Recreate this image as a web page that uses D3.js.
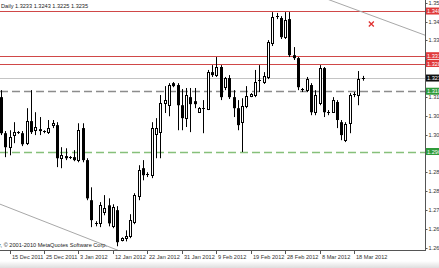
<!DOCTYPE html>
<html>
<head>
<meta charset="utf-8">
<script src="https://cdn.jsdelivr.net/npm/d3@7"></script>
<style>
  body { margin: 0; background: #fff; }
  svg { display: block; }
  text { font-family: "Liberation Sans", Arial, sans-serif; font-size: 5.6px; }
</style>
</head>
<body>
<svg id="chart" width="439" height="268"></svg>
<script>
// daily bars (Sunday bars included, like the broker feed)
var dates = [
  "2011-12-13","2011-12-14","2011-12-15","2011-12-16","2011-12-18","2011-12-19","2011-12-20","2011-12-21","2011-12-22","2011-12-23",
  "2011-12-25","2011-12-26","2011-12-27","2011-12-28","2011-12-29","2011-12-30","2012-01-01","2012-01-02","2012-01-03","2012-01-04",
  "2012-01-05","2012-01-06","2012-01-08","2012-01-09","2012-01-10","2012-01-11","2012-01-12","2012-01-13","2012-01-15","2012-01-16",
  "2012-01-17","2012-01-18","2012-01-19","2012-01-20","2012-01-22","2012-01-23","2012-01-24","2012-01-25","2012-01-26","2012-01-27",
  "2012-01-29","2012-01-30","2012-01-31","2012-02-01","2012-02-02","2012-02-03","2012-02-05","2012-02-06","2012-02-07","2012-02-08",
  "2012-02-09","2012-02-10","2012-02-12","2012-02-13","2012-02-14","2012-02-15","2012-02-16","2012-02-17","2012-02-19","2012-02-20",
  "2012-02-21","2012-02-22","2012-02-23","2012-02-24","2012-02-26","2012-02-27","2012-02-28","2012-02-29","2012-03-01","2012-03-02",
  "2012-03-04","2012-03-05","2012-03-06","2012-03-07","2012-03-08","2012-03-09","2012-03-11","2012-03-12","2012-03-13","2012-03-14",
  "2012-03-15","2012-03-16","2012-03-18","2012-03-19","2012-03-20"
];
var open = [
  1.3164,1.3030,1.2978,1.3023,1.3034,1.3030,1.2993,1.3075,1.3041,1.3045,
  1.3038,1.3034,1.3060,1.3060,1.2937,1.2945,1.2937,1.2941,1.2930,1.3049,
  1.2930,1.2781,1.2695,1.2695,1.2736,1.2762,1.2684,1.2744,1.2632,1.2640,
  1.2647,1.2699,1.2796,1.2900,1.2874,1.2874,1.3027,1.3034,1.3142,1.3134,
  1.3216,1.3209,1.3134,1.3086,1.3164,1.3149,1.3108,1.3123,1.3120,1.3257,
  1.3246,1.3276,1.3201,1.3235,1.3164,1.3123,1.3071,1.3131,1.3168,1.3172,
  1.3227,1.3220,1.3239,1.3365,1.3462,1.3458,1.3387,1.3454,1.3320,1.3309,
  1.3194,1.3190,1.3209,1.3108,1.3142,1.3272,1.3108,1.3108,1.3146,1.3071,
  1.3004,1.3067,1.3172,1.3172,1.3233
];
var high = [
  1.3190,1.3038,1.3041,1.3071,1.3038,1.3038,1.3123,1.3190,1.3108,1.3090,
  1.3041,1.3079,1.3079,1.3071,1.2978,1.2974,1.2945,1.2967,1.3067,1.3067,
  1.2937,1.2829,1.2703,1.2774,1.2800,1.2788,1.2766,1.2759,1.2643,1.2669,
  1.2729,1.2807,1.2911,1.2930,1.2885,1.3071,1.3086,1.3172,1.3205,1.3216,
  1.3220,1.3216,1.3194,1.3198,1.3198,1.3198,1.3127,1.3153,1.3265,1.3283,
  1.3313,1.3283,1.3239,1.3246,1.3190,1.3153,1.3160,1.3205,1.3179,1.3265,
  1.3283,1.3257,1.3376,1.3480,1.3477,1.3465,1.3480,1.3480,1.3350,1.3313,
  1.3198,1.3239,1.3216,1.3190,1.3283,1.3276,1.3116,1.3164,1.3153,1.3079,
  1.3071,1.3179,1.3183,1.3261,1.3243
];
var low = [
  1.3023,1.2941,1.2948,1.2993,1.3027,1.2982,1.2986,1.3027,1.3023,1.3023,
  1.3030,1.3027,1.3049,1.2904,1.2900,1.2930,1.2934,1.2926,1.2922,1.2922,
  1.2781,1.2681,1.2684,1.2681,1.2725,1.2684,1.2677,1.2610,1.2628,1.2628,
  1.2640,1.2692,1.2781,1.2855,1.2867,1.2863,1.2937,1.2937,1.3105,1.3093,
  1.3201,1.3041,1.3041,1.3053,1.3034,1.3123,1.3105,1.3030,1.3116,1.3239,
  1.3239,1.3153,1.3190,1.3157,1.3090,1.3041,1.2960,1.3123,1.3164,1.3164,
  1.3183,1.3213,1.3231,1.3354,1.3454,1.3380,1.3380,1.3313,1.3302,1.3190,
  1.3183,1.3183,1.3097,1.3097,1.3134,1.3090,1.3097,1.3105,1.3049,1.3004,
  1.2997,1.3030,1.3164,1.3134,1.3225
];
var close = [
  1.3030,1.2978,1.3015,1.3034,1.3030,1.2989,1.3075,1.3034,1.3053,1.3038,
  1.3034,1.3049,1.3067,1.2937,1.2948,1.2937,1.2941,1.2930,1.3041,1.2930,
  1.2788,1.2707,1.2692,1.2762,1.2751,1.2695,1.2755,1.2625,1.2640,1.2647,
  1.2707,1.2800,1.2893,1.2874,1.2878,1.3049,1.3049,1.3142,1.3153,1.3209,
  1.3205,1.3134,1.3086,1.3172,1.3138,1.3138,1.3123,1.3120,1.3257,1.3246,
  1.3276,1.3164,1.3235,1.3164,1.3123,1.3060,1.3131,1.3168,1.3175,1.3220,
  1.3224,1.3242,1.3369,1.3462,1.3465,1.3387,1.3451,1.3320,1.3309,1.3201,
  1.3190,1.3231,1.3108,1.3172,1.3272,1.3108,1.3105,1.3153,1.3079,1.3023,
  1.3064,1.3172,1.3175,1.3231,1.3235
];

var priceTicks = [1.2605,1.2675,1.2745,1.2815,1.2885,1.2955,1.3025,1.3095,1.3165,1.3235,1.3305,1.3375,1.3445,1.3515];
var dateTicks = ["2011-12-15","2011-12-25","2012-01-03","2012-01-12","2012-01-22","2012-01-31","2012-02-09","2012-02-19","2012-02-28","2012-03-08","2012-03-18"];
var dateLabels = ["15 Dec 2011","25 Dec 2011","3 Jan 2012","12 Jan 2012","22 Jan 2012","31 Jan 2012","9 Feb 2012","19 Feb 2012","28 Feb 2012","8 Mar 2012","18 Mar 2012"];

// horizontal levels drawn on the chart
var redLevels = [1.3484, 1.3318, 1.3289];
var bidPrice = 1.3235;
var greyDashLevel = 1.3186;
var greenDashLevel = 1.2962;

// trend lines: [bar index, price] anchors
var trendUpper = [[77, 1.3521], [98, 1.3397]];
var trendLower = [[0, 1.2765], [27, 1.2596]];
var crossMark = [86, 1.3436];

var plotRight = 425, plotBottom = 250;

var x = d3.scaleLinear().domain([0, 84]).range([0.96, 362.7]);
var y = d3.scaleLinear().domain([1.2596, 1.3525]).range([plotBottom, 0]);

var svg = d3.select("#chart");
var defs = svg.append("defs");
defs.append("clipPath").attr("id", "clip")
  .append("rect").attr("x", 0).attr("y", 0).attr("width", plotRight).attr("height", plotBottom);
var grad = defs.append("linearGradient").attr("id", "shade").attr("x1", 0).attr("y1", 0).attr("x2", 0).attr("y2", 1);
grad.append("stop").attr("offset", "0%").attr("stop-color", "#ffffff");
grad.append("stop").attr("offset", "100%").attr("stop-color", "#dedede");

svg.append("rect").attr("x", 0).attr("y", 261).attr("width", 439).attr("height", 7).attr("fill", "url(#shade)");

var plot = svg.append("g").attr("clip-path", "url(#clip)");

function crisp(v) { return Math.round(v) + 0.5; }

// level lines
plot.selectAll(".red").data(redLevels).enter().append("line")
  .attr("x1", 0).attr("x2", plotRight)
  .attr("y1", function(d) { return crisp(y(d)); })
  .attr("y2", function(d) { return crisp(y(d)); })
  .attr("stroke", "#d04848").attr("stroke-width", 1);

plot.append("line").attr("x1", 0).attr("x2", plotRight)
  .attr("y1", crisp(y(bidPrice))).attr("y2", crisp(y(bidPrice)))
  .attr("stroke", "#c4c4c4").attr("stroke-width", 1);

plot.append("line").attr("x1", 0).attr("x2", plotRight)
  .attr("y1", crisp(y(greyDashLevel))).attr("y2", crisp(y(greyDashLevel)))
  .attr("stroke", "#8c8c8c").attr("stroke-width", 1.3).attr("stroke-dasharray", "8,4");

plot.append("line").attr("x1", 0).attr("x2", plotRight)
  .attr("y1", crisp(y(greenDashLevel))).attr("y2", crisp(y(greenDashLevel)))
  .attr("stroke", "#86c07a").attr("stroke-width", 1.3).attr("stroke-dasharray", "8,4");

// trend lines, extended across the plot
[trendUpper, trendLower].forEach(function(t) {
  var slope = (t[1][1] - t[0][1]) / (t[1][0] - t[0][0]);
  var i0 = x.invert(0), i1 = x.invert(plotRight);
  plot.append("line")
    .attr("x1", 0).attr("y1", y(t[0][1] + (i0 - t[0][0]) * slope))
    .attr("x2", plotRight).attr("y2", y(t[0][1] + (i1 - t[0][0]) * slope))
    .attr("stroke", "#a8a8a8").attr("stroke-width", 1);
});

// candles
var bars = dates.map(function(d, i) {
  return { i: i, o: open[i], h: high[i], l: low[i], c: close[i] };
});

plot.selectAll(".wick").data(bars).enter().append("line")
  .attr("x1", function(d) { return crisp(x(d.i)); })
  .attr("x2", function(d) { return crisp(x(d.i)); })
  .attr("y1", function(d) { return y(d.h); })
  .attr("y2", function(d) { return y(d.l); })
  .attr("stroke", "#000").attr("stroke-width", 1);

bars.forEach(function(d) {
  var cx = Math.round(x(d.i));
  var top = y(Math.max(d.o, d.c)), bot = y(Math.min(d.o, d.c));
  if (bot - top < 1.2) {
    plot.append("line").attr("x1", cx - 1).attr("x2", cx + 2)
      .attr("y1", crisp(top)).attr("y2", crisp(top)).attr("stroke", "#000");
  } else if (d.c > d.o) {
    plot.append("rect").attr("x", cx - 0.5).attr("y", crisp(top))
      .attr("width", 2).attr("height", Math.round(bot - top))
      .attr("fill", "#fff").attr("stroke", "#000").attr("stroke-width", 1);
  } else {
    plot.append("rect").attr("x", cx - 1).attr("y", top)
      .attr("width", 3).attr("height", bot - top).attr("fill", "#000");
  }
});

// red cross marker
var mx = x(crossMark[0]), my = y(crossMark[1]);
plot.append("path")
  .attr("d", "M" + (mx - 2.5) + "," + (my - 2.5) + "L" + (mx + 2.5) + "," + (my + 2.5) +
             "M" + (mx + 2.5) + "," + (my - 2.5) + "L" + (mx - 2.5) + "," + (my + 2.5))
  .attr("stroke", "#e03030").attr("stroke-width", 1.3);

// axes
svg.append("line").attr("x1", plotRight + 0.5).attr("x2", plotRight + 0.5)
  .attr("y1", 0).attr("y2", plotBottom + 1).attr("stroke", "#555");
svg.append("line").attr("x1", 0).attr("x2", plotRight + 1)
  .attr("y1", plotBottom + 0.5).attr("y2", plotBottom + 0.5).attr("stroke", "#555");

// price tags on the right scale
var tags = [
  { p: redLevels[0], bg: "#e03a3a", fg: "#fff" },
  { p: redLevels[1], bg: "#e03a3a", fg: "#fff" },
  { p: redLevels[2], bg: "#e03a3a", fg: "#fff" },
  { p: bidPrice, bg: "#111", fg: "#fff" },
  { p: greyDashLevel, bg: "#2f9a3a", fg: "#fff" },
  { p: greenDashLevel, bg: "#2f9a3a", fg: "#fff" }
];

// scale labels hidden behind a tag are not drawn (as on the terminal)
var freeTicks = priceTicks.filter(function(p) {
  return tags.every(function(t) { return Math.abs(y(t.p) - y(p)) > 5; });
});

svg.selectAll(".ptick").data(priceTicks).enter().append("line")
  .attr("x1", plotRight).attr("x2", plotRight + 2.5)
  .attr("y1", function(d) { return crisp(y(d)); })
  .attr("y2", function(d) { return crisp(y(d)); })
  .attr("stroke", "#555");
svg.selectAll(".plabel").data(freeTicks).enter().append("text")
  .attr("x", plotRight + 3.5).attr("y", function(d) { return y(d) + 2; })
  .attr("fill", "#333")
  .text(function(d) { return d.toFixed(4); });

dateTicks.forEach(function(dt, k) {
  var tx = crisp(x(dates.indexOf(dt)));
  svg.append("line").attr("x1", tx).attr("x2", tx)
    .attr("y1", plotBottom).attr("y2", plotBottom + 4).attr("stroke", "#555");
  svg.append("text").attr("x", tx + 1.5).attr("y", plotBottom + 8.5)
    .attr("fill", "#333").text(dateLabels[k]);
});

tags.forEach(function(t) {
  var ty = y(t.p);
  svg.append("rect").attr("x", plotRight + 1).attr("y", ty - 3.5)
    .attr("width", 16).attr("height", 7).attr("fill", t.bg);
  svg.append("text").attr("x", plotRight + 2).attr("y", ty + 2)
    .attr("fill", t.fg).text(t.p.toFixed(4));
});

// header and copyright
svg.append("text").attr("x", 1).attr("y", 7.5).attr("fill", "#222")
  .text("Daily  1.3233 1.3243 1.3225 1.3235");
svg.append("text").attr("x", 107).attr("y", 247).attr("text-anchor", "end").attr("fill", "#222")
  .text("MetaTrader, \u00a9 2001-2010 MetaQuotes Software Corp.");
</script>
</body>
</html>
